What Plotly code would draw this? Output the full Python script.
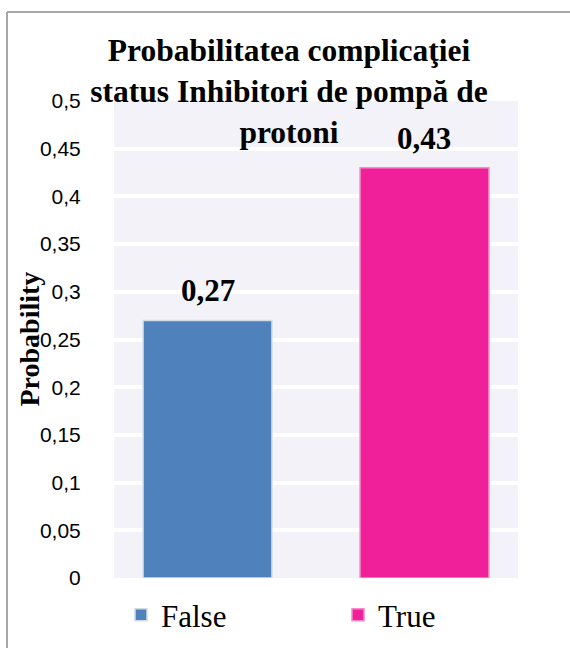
import plotly.graph_objects as go

# ---- data ----
categories = ["False", "True"]
probabilities = [0.27, 0.43]
bar_colors = ["#4F81BD", "#F0209A"]
bar_edge_colors = ["#D5DCE6", "#F78BC8"]
y_tick_vals = [0, 0.05, 0.1, 0.15, 0.2, 0.25, 0.3, 0.35, 0.4, 0.45, 0.5]
y_tick_text = ["0", "0,05", "0,1", "0,15", "0,2", "0,25", "0,3", "0,35", "0,4", "0,45", "0,5"]
title_text = "Probabilitatea complicaţiei<br>status Inhibitori de pompă de<br>protoni"
y_title = "Probability"

W, H = 570, 648
L, R, T, B = 114, 52, 101, 70
pw, ph = W - L - R, H - T - B

def px_x(x):
    return (x - L) / pw

def px_y(y):
    return (H - B - y) / ph

legend_names = ["legend", "legend2"]
legend_left_px = [121, 338]

fig = go.Figure()
for cat, val, col, edge, lg in zip(categories, probabilities, bar_colors, bar_edge_colors, legend_names):
    fig.add_trace(go.Bar(
        x=[cat], y=[val], name=cat,
        marker=dict(color=col, line=dict(color=edge, width=1.5)),
        width=0.594, legend=lg,
    ))

annotations = []
for cat, val in zip(categories, probabilities):
    annotations.append(dict(
        x=cat, y=val, xref="x", yref="y",
        text=f"{val:.2f}".replace(".", ","),
        showarrow=False, yanchor="bottom", yshift=10,
        font=dict(family="Liberation Serif", size=31, color="#000000", weight="bold"),
    ))
annotations.append(dict(
    x=px_x(29), y=0.5, xref="paper", yref="paper",
    text=y_title, textangle=-90, showarrow=False,
    xanchor="center", yanchor="middle",
    font=dict(family="Liberation Serif", size=28, color="#000000", weight="bold"),
))

shapes = [
    dict(type="line", xref="paper", yref="paper",
         x0=px_x(7), y0=px_y(12), x1=px_x(575), y1=px_y(12),
         line=dict(color="#A6A6A6", width=2)),
    dict(type="line", xref="paper", yref="paper",
         x0=px_x(7), y0=px_y(12), x1=px_x(7), y1=px_y(655),
         line=dict(color="#A6A6A6", width=2)),
]

legend_style = dict(
    orientation="h", xanchor="left", yanchor="middle",
    font=dict(family="Liberation Serif", size=31, color="#000000"),
    bgcolor="rgba(0,0,0,0)",
)

fig.update_layout(
    width=W, height=H,
    margin=dict(l=L, r=R, t=T, b=B, pad=0, autoexpand=False),
    paper_bgcolor="#FFFFFF",
    plot_bgcolor="#F2F2F8",
    barmode="overlay",
    showlegend=True,
    title=dict(
        text=title_text, x=289 / W, xanchor="center",
        y=1 - 61 / H, yanchor="top", yref="container",
        font=dict(family="Liberation Serif", size=31.5, color="#000000", weight="bold"),
    ),
    xaxis=dict(
        range=[-0.431, 1.431], showticklabels=False, showgrid=False,
        zeroline=False, showline=False, ticks="",
    ),
    yaxis=dict(
        range=[0, 0.5], tickvals=y_tick_vals, ticktext=y_tick_text,
        showgrid=True, gridcolor="#FFFFFF", gridwidth=4,
        zeroline=False, showline=False,
        ticks="outside", ticklen=28, tickcolor="rgba(0,0,0,0)",
        tickfont=dict(family="Liberation Sans", size=21, color="#000000"),
    ),
    legend=dict(x=px_x(legend_left_px[0]), y=px_y(615), **legend_style),
    legend2=dict(x=px_x(legend_left_px[1]), y=px_y(615), **legend_style),
    annotations=annotations,
    shapes=shapes,
)

fig.write_html("out.html")
